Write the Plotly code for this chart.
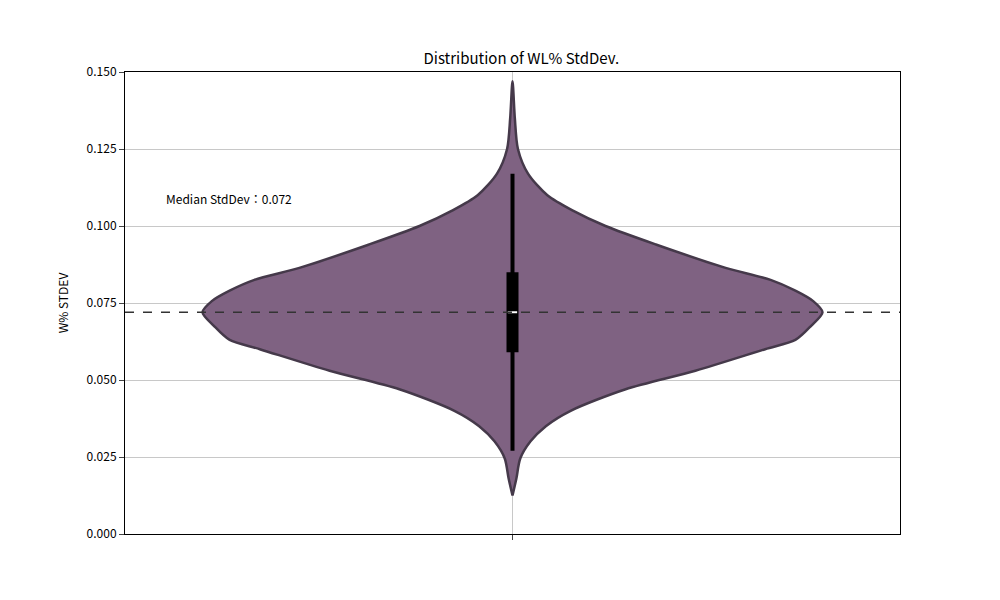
import plotly.graph_objects as go

# violin outline: y value and half width (x units, axis -0.5..0.5)
prof_y = [0.147, 0.135, 0.125, 0.117, 0.110, 0.105, 0.100, 0.094, 0.0864, 0.0825, 0.079, 0.0756,
          0.072, 0.0675, 0.063, 0.060, 0.053, 0.047, 0.040, 0.035, 0.030, 0.0245, 0.018, 0.0125]
prof_w = [0.0, 0.003, 0.007, 0.02, 0.045, 0.078, 0.12, 0.185, 0.275, 0.333, 0.365, 0.388,
          0.4, 0.385, 0.365, 0.326, 0.236, 0.146, 0.075, 0.043, 0.023, 0.010, 0.005, 0.0]

q1, q3 = 0.059, 0.085
whisk_lo, whisk_hi = 0.027, 0.117
median = 0.072
title = "Distribution of WL% StdDev."

xs = prof_w + [-w for w in prof_w[::-1]]
ys = prof_y + prof_y[::-1]

fig = go.Figure()
fig.add_trace(go.Scatter(x=xs, y=ys, fill="toself", fillcolor="rgba(127,98,130,1)",
                         line=dict(color="#45394a", width=2.5, shape="spline", smoothing=0.8),
                         mode="lines", hoverinfo="skip"))
fig.add_trace(go.Scatter(x=[0, 0], y=[whisk_lo, whisk_hi], mode="lines",
                         line=dict(color="black", width=4)))
fig.add_trace(go.Scatter(x=[0, 0], y=[q1, q3], mode="lines",
                         line=dict(color="black", width=12)))
fig.add_trace(go.Scatter(x=[-0.006, 0.006], y=[median, median], mode="lines",
                         line=dict(color="white", width=2)))
fig.add_hline(y=median, line=dict(color="#333333", width=1.5, dash="dash"))
fig.add_annotation(x=-0.45, y=0.109, text="Median StdDev：0.072", showarrow=False,
                   xanchor="left", font=dict(size=12, color="black"))

fig.update_layout(
    width=1000, height=600, showlegend=False, plot_bgcolor="white", paper_bgcolor="white",
    margin=dict(l=117, r=108, t=64, b=74),
    font=dict(family="Noto Sans CJK KR", size=12, color="black"),
    title=dict(text=title, x=0.5133, y=0.925, xanchor="center", font=dict(size=15)),
)
fig.update_xaxes(range=[-0.5, 0.5], tickvals=[0], ticktext=[""], ticks="outside",
                 showgrid=True, gridcolor="#c8c8c8", zeroline=False,
                 showline=True, linecolor="black", mirror=True)
fig.update_yaxes(range=[0, 0.15], tickvals=[0, 0.025, 0.05, 0.075, 0.1, 0.125, 0.15],
                 tickformat=".3f", ticks="outside", title_text="W% STDEV", title_font_size=12,
                 showgrid=True, gridcolor="#c8c8c8", zeroline=False,
                 showline=True, linecolor="black", mirror=True)

fig.write_html("out.html")
